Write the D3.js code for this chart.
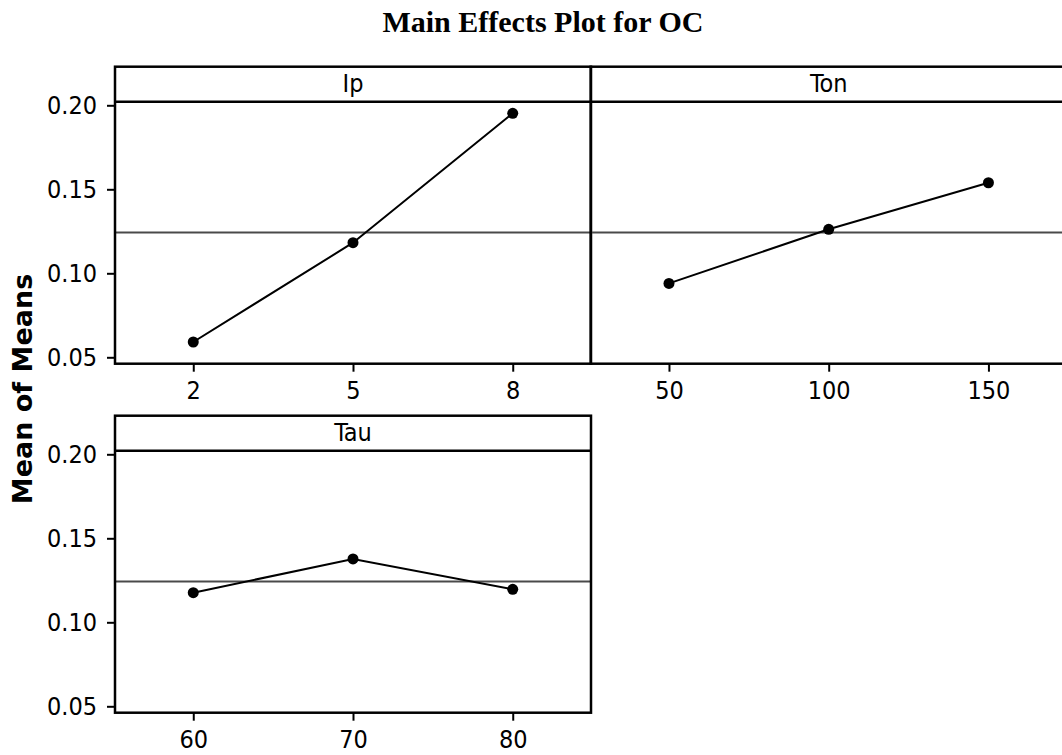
<!DOCTYPE html>
<html>
<head>
<meta charset="utf-8">
<script src="https://cdn.jsdelivr.net/npm/d3@7"></script>
<style>
  body { margin: 0; background: #fff; }
  svg { display: block; }
  .tick text { font-family: "DejaVu Sans Condensed", "DejaVu Sans", sans-serif; font-size: 25px; fill: #000; }
</style>
</head>
<body>
<svg id="chart" width="1062" height="755"></svg>
<script>
// data
const factors = ["Ip", "Ton", "Tau"];
const ipLevels = ["2", "5", "8"];
const ipMeans = [0.0591, 0.1182, 0.1952];
const tonLevels = ["50", "100", "150"];
const tonMeans = [0.0940, 0.1262, 0.1539];
const tauLevels = ["60", "70", "80"];
const tauMeans = [0.1176, 0.1377, 0.1196];
const grandMean = [0.1243];
const yTicks = [0.05, 0.10, 0.15, 0.20];

const svg = d3.select("#chart");

// panel size and where each one sits
const W = 476, H = 297, stripH = 35;
const panels = [
  { name: factors[0], levels: ipLevels, means: ipMeans, x: 115, y: 66.7, yAxis: true },
  { name: factors[1], levels: tonLevels, means: tonMeans, x: 590.7, y: 66.7, yAxis: false },
  { name: factors[2], levels: tauLevels, means: tauMeans, x: 115, y: 415.7, yAxis: true }
];

const y = d3.scaleLinear()
  .domain([0.05, 0.20])
  .range([290.6, 38.6]);

// title
svg.append("text")
  .attr("x", 543)
  .attr("y", 32)
  .attr("text-anchor", "middle")
  .style("font-family", "'Liberation Serif', 'Times New Roman', serif")
  .style("font-weight", "bold")
  .style("font-size", "30px")
  .text("Main Effects Plot for OC");

// y label
svg.append("text")
  .attr("transform", "translate(32,389) rotate(-90)")
  .attr("text-anchor", "middle")
  .style("font-family", "'DejaVu Sans', sans-serif")
  .style("font-weight", "bold")
  .style("font-size", "27px")
  .text("Mean of Means");

panels.forEach((p) => {
  const g = svg.append("g").attr("transform", `translate(${p.x},${p.y})`);

  const x = d3.scalePoint()
    .domain(p.levels)
    .range([0, W])
    .padding(0.49);

  // grand mean reference line
  g.append("line")
    .attr("x1", 0).attr("x2", W)
    .attr("y1", y(grandMean[0])).attr("y2", y(grandMean[0]))
    .attr("stroke", "#4a4a4a")
    .attr("stroke-width", 2);

  // means line + points
  const pts = p.levels.map((l, i) => [x(l), y(p.means[i])]);
  g.append("path")
    .attr("d", d3.line()(pts))
    .attr("fill", "none")
    .attr("stroke", "#000")
    .attr("stroke-width", 2);

  g.selectAll("circle")
    .data(pts)
    .enter()
    .append("circle")
    .attr("cx", (d) => d[0])
    .attr("cy", (d) => d[1])
    .attr("r", 5.5)
    .attr("fill", "#000");

  // strip header
  g.append("line")
    .attr("x1", 0).attr("x2", W)
    .attr("y1", stripH).attr("y2", stripH)
    .attr("stroke", "#000")
    .attr("stroke-width", 2.5);
  g.append("text")
    .attr("x", W / 2)
    .attr("y", 25)
    .attr("text-anchor", "middle")
    .style("font-family", "'DejaVu Sans Condensed', 'DejaVu Sans', sans-serif")
    .style("font-size", "25px")
    .text(p.name);

  // frame
  g.append("rect")
    .attr("width", W)
    .attr("height", H)
    .attr("fill", "none")
    .attr("stroke", "#000")
    .attr("stroke-width", 2.5);

  // axes
  const xAxis = g.append("g")
    .attr("transform", `translate(0,${H})`)
    .call(d3.axisBottom(x).tickSize(8).tickPadding(10));
  xAxis.select(".domain").remove();
  xAxis.selectAll(".tick line").attr("stroke-width", 2);

  if (p.yAxis) {
    const yAxis = g.append("g")
      .call(d3.axisLeft(y).tickValues(yTicks).tickFormat(d3.format(".2f")).tickSize(8).tickPadding(10));
    yAxis.select(".domain").remove();
    yAxis.selectAll(".tick line").attr("stroke-width", 2);
  }
});
</script>
</body>
</html>
